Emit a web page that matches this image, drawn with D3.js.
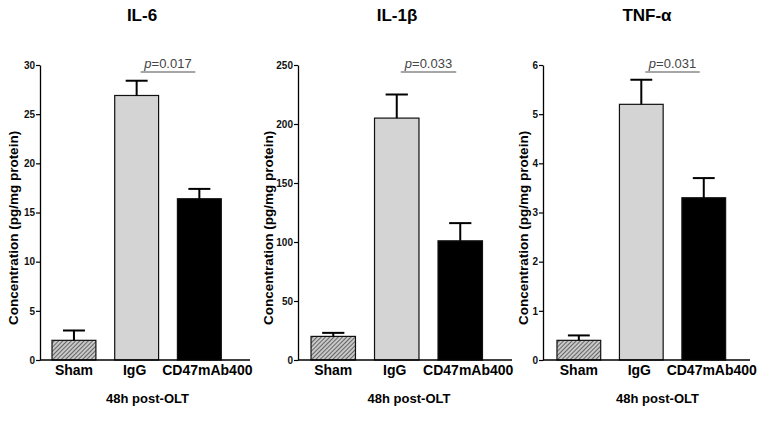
<!DOCTYPE html>
<html>
<head>
<meta charset="utf-8">
<script src="https://cdn.jsdelivr.net/npm/d3@7"></script>
<style>
  html, body { margin: 0; padding: 0; background: #fff; }
  svg { display: block; font-family: "Liberation Sans", Arial, sans-serif; }
</style>
</head>
<body>
<svg id="chart" width="767" height="423"></svg>
<script>
// ---- Data ----
const categories = ["Sham", "IgG", "CD47mAb400"];
const panelTitles = ["IL-6", "IL-1\u03B2", "TNF-\u03B1"];
const il6Means = [2.0, 26.9, 16.4];
const il6Errors = [1.0, 1.5, 1.0];
const il1bMeans = [20, 205, 101];
const il1bErrors = [3, 20, 15];
const tnfaMeans = [0.4, 5.2, 3.3];
const tnfaErrors = [0.1, 0.5, 0.4];
const il6Ticks = [0, 5, 10, 15, 20, 25, 30];
const il1bTicks = [0, 50, 100, 150, 200, 250];
const tnfaTicks = [0, 1, 2, 3, 4, 5, 6];
const pLabels = ["0.017", "0.033", "0.031"];
const yLabel = "Concentration (pg/mg protein)";
const xLabel = "48h post-OLT";

// ---- Layout ----
const panels = [
  { title: panelTitles[0], means: il6Means, errs: il6Errors, ticks: il6Ticks, max: 30, p: pLabels[0],
    axisX: 40, axisEnd: 250, band: [42.6, 230.7], ylabX: 18, titleX: 142, xlabX: 147.5 },
  { title: panelTitles[1], means: il1bMeans, errs: il1bErrors, ticks: il1bTicks, max: 250, p: pLabels[1],
    axisX: 298, axisEnd: 512, band: [301.5, 492], ylabX: 273, titleX: 397, xlabX: 409 },
  { title: panelTitles[2], means: tnfaMeans, errs: tnfaErrors, ticks: tnfaTicks, max: 6, p: pLabels[2],
    axisX: 543, axisEnd: 750, band: [547.6, 735], ylabX: 528, titleX: 647, xlabX: 657.5 }
];
const yTop = 65, yBottom = 360;
const fills = ["url(#hatch)", "#d4d4d4", "#000"];
const catShift = [0, -2, 8];

const svg = d3.select("#chart");
const defs = svg.append("defs");
const pat = defs.append("pattern")
  .attr("id", "hatch").attr("patternUnits", "userSpaceOnUse")
  .attr("width", 3).attr("height", 3)
  .attr("patternTransform", "rotate(45)");
pat.append("rect").attr("width", 3).attr("height", 3).attr("fill", "#c8c8c8");
pat.append("line").attr("x1", 0).attr("y1", 0).attr("x2", 0).attr("y2", 3)
  .attr("stroke", "#3a3a3a").attr("stroke-width", 1.4);

panels.forEach(p => {
  const g = svg.append("g");
  const y = d3.scaleLinear().domain([0, p.max]).range([yBottom, yTop]);
  const x = d3.scaleBand().domain(categories).range(p.band).paddingInner(0.3).paddingOuter(0.15);

  // title
  g.append("text").attr("x", p.titleX).attr("y", 21).attr("text-anchor", "middle")
    .attr("font-size", 17).attr("font-weight", "bold").text(p.title);

  // bars
  g.selectAll(".bar").data(categories).enter().append("rect")
    .attr("x", d => x(d)).attr("width", x.bandwidth())
    .attr("y", (d, i) => y(p.means[i]))
    .attr("height", (d, i) => yBottom - y(p.means[i]))
    .attr("fill", (d, i) => fills[i])
    .attr("stroke", "#111").attr("stroke-width", 1.2);

  // error bars (upper only)
  categories.forEach((c, i) => {
    const cx = x(c) + x.bandwidth() / 2;
    const top = y(p.means[i] + p.errs[i]);
    const capW = x.bandwidth() / 2;
    g.append("line").attr("x1", cx).attr("x2", cx)
      .attr("y1", y(p.means[i])).attr("y2", top)
      .attr("stroke", "#000").attr("stroke-width", 2);
    g.append("line").attr("x1", cx - capW / 2).attr("x2", cx + capW / 2)
      .attr("y1", top).attr("y2", top)
      .attr("stroke", "#000").attr("stroke-width", 2);
  });

  // y axis
  const yAxis = d3.axisLeft(y).tickValues(p.ticks).tickFormat(d3.format("d"))
    .tickSize(4).tickSizeOuter(0).tickPadding(1);
  const ya = g.append("g").attr("transform", `translate(${p.axisX},0)`).call(yAxis);
  ya.select(".domain").attr("stroke", "#000").attr("stroke-width", 1.3);
  ya.selectAll(".tick line").attr("stroke", "#000").attr("stroke-width", 1.2);
  ya.selectAll(".tick text").attr("font-size", 10).attr("font-weight", "bold")
    .attr("font-family", "Liberation Sans, Arial, sans-serif").attr("fill", "#111");

  // x axis line
  g.append("line").attr("x1", p.axisX).attr("x2", p.axisEnd)
    .attr("y1", yBottom).attr("y2", yBottom)
    .attr("stroke", "#000").attr("stroke-width", 1.3);

  // category labels
  g.selectAll(".cat").data(categories).enter().append("text")
    .attr("x", (d, i) => x(d) + x.bandwidth() / 2 + catShift[i]).attr("y", 375)
    .attr("text-anchor", "middle").attr("font-size", 14).attr("font-weight", "bold")
    .text(d => d);

  // x label
  g.append("text").attr("x", p.xlabX).attr("y", 403)
    .attr("text-anchor", "middle").attr("font-size", 13).attr("font-weight", "bold")
    .text(xLabel);

  // y label
  g.append("text")
    .attr("transform", `translate(${p.ylabX},228) rotate(-90)`)
    .attr("text-anchor", "middle").attr("font-size", 13.5).attr("font-weight", "bold")
    .text(yLabel);

  // significance line
  const x1 = x("IgG") + x.bandwidth() / 2 + 4;
  const x2 = x("CD47mAb400") + x.bandwidth() / 2 - 4;
  g.append("line").attr("x1", x1).attr("x2", x2).attr("y1", 72).attr("y2", 72)
    .attr("stroke", "#888").attr("stroke-width", 1.3);
  const t = g.append("text").attr("x", (x1 + x2) / 2).attr("y", 68)
    .attr("text-anchor", "middle").attr("font-size", 13).attr("fill", "#444");
  t.append("tspan").attr("font-style", "italic").text("p");
  t.append("tspan").text("=" + p.p);
});
</script>
</body>
</html>
